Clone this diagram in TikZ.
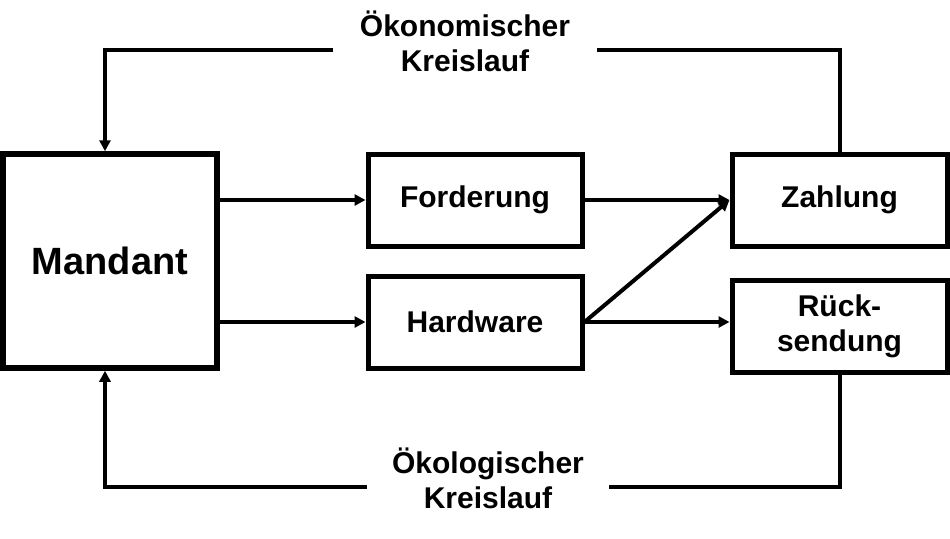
\documentclass[tikz,border=0pt]{standalone}
\usepackage{fontspec}
\setmainfont{Liberation Sans}
\usetikzlibrary{arrows.meta}

\begin{document}
\begin{tikzpicture}[x=1pt,y=-1pt,
  block/.style={draw, line width=5pt, inner sep=0pt, align=center,
    font=\fontsize{30}{35}\selectfont\bfseries},
  conn/.style={line width=4pt, -{Triangle[length=11pt,width=11pt]}},
  plainconn/.style={line width=4pt},
  cyclelabel/.style={inner ysep=0pt, align=center,
    font=\fontsize{30}{35}\selectfont\bfseries}]

 \useasboundingbox (0,0) rectangle (950,538);

 % boxes
 \node[block, line width=5.5pt, minimum width=214pt, minimum height=214pt,
   font=\fontsize{38}{44}\selectfont\bfseries] (mandant) at (110,261) {Mandant};
 \node[block, minimum width=214pt, minimum height=92pt] (forderung) at (475,200) {Forderung};
 \node[block, minimum width=214pt, minimum height=92pt] (hardware) at (475,322) {Hardware};
 \node[block, minimum width=215pt, minimum height=92pt] (zahlung) at (839.5,200) {Zahlung};
 \node[block, minimum width=215pt, minimum height=92pt] (ruecksendung) at (839.5,326) {Rück-\\sendung};

 % cycle labels
 \node[cyclelabel, inner xsep=27pt] (oekon) at (465,50)
   {Ökonomischer\\Kreislauf\rule[-17pt]{0pt}{17pt}};
 \node[cyclelabel, inner xsep=25pt] (oekol) at (488,487)
   {Ökologischer\\Kreislauf\rule[-17pt]{0pt}{17pt}};

 % arrows
 \draw[conn] (mandant.east |- forderung.west) -- (forderung.west);
 \draw[conn] (mandant.east |- hardware.west) -- (hardware.west);
 \draw[conn] (forderung.east) -- (zahlung.west);
 \draw[conn] (hardware.east) -- (zahlung.west);
 \draw[conn] (hardware.east) -- (hardware.east -| ruecksendung.west);

 % cycles
 \draw[plainconn] (zahlung.north) |- (oekon.east);
 \draw[conn] (oekon.west) -| ([xshift=-5pt]mandant.north);
 \draw[plainconn] (ruecksendung.south) |- (oekol.east);
 \draw[conn] (oekol.west) -| ([xshift=-5pt]mandant.south);
\end{tikzpicture}
\end{document}
